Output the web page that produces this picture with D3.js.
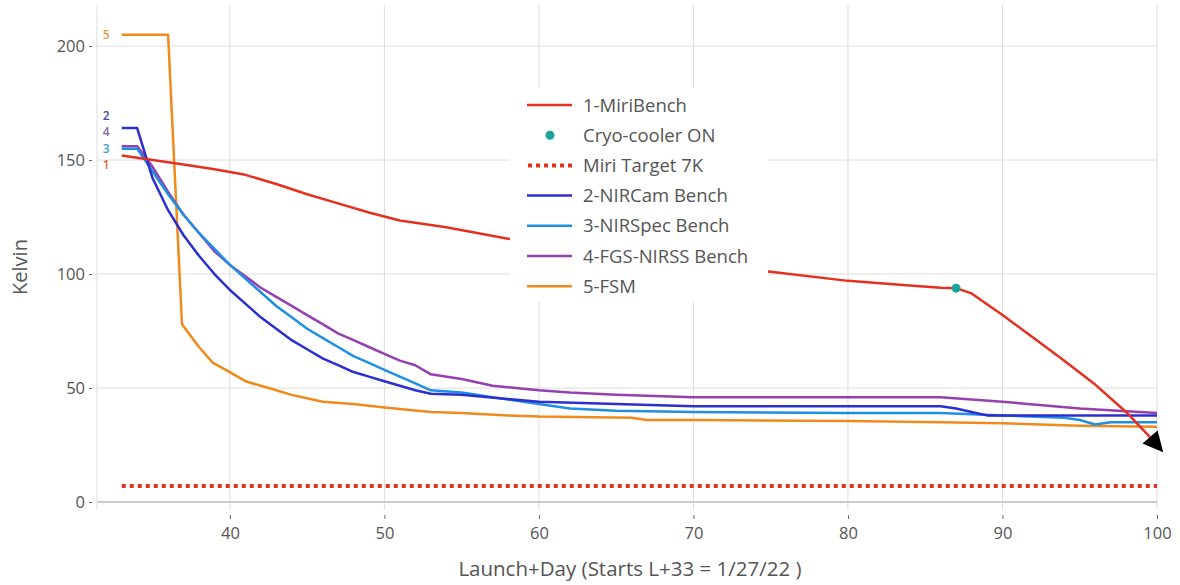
<!DOCTYPE html>
<html><head><meta charset="utf-8">
<script src="https://cdn.jsdelivr.net/npm/d3@7"></script>
<style>body{margin:0;background:#fff}svg{display:block}text{font-family:"Open Sans",sans-serif}</style>
</head><body><svg id="c" width="1180" height="585"></svg>
<script>
const miriX=[33,35,37,39,41,43,45,47,49,51,53,54,56,58,60,65,70,75,80,84,86,87,88,90,92,94,96,98,99.55];
const miriY=[152,150,148,146,143.5,139.5,135,131,127,123.5,121.5,120.5,118,115.5,113,108,104,101,97,95,94,93.8,91.5,82,72,62,51.5,39.5,28.5];
const arrowTip=[100.4,21.8];
const cryoX=[87], cryoY=[93.8];
const targetX=[33,100], targetY=[7,7];
const camX=[33,34,35,36,37,38,39,40,41,42,43,44,45,46,47,48,49,50,51,52,53,55,60,65,70,80,86,87,88,89,90,95,100];
const camY=[164,164,142,128,117,108,100,93,87,81,76,71,67,63,60,57,55,53,51,49,47.5,47,44,43,42,42,42,41,39.5,38,38,38,38];
const specX=[33,34,35,36,37,38,39,40,41,42,43,44,45,46,47,48,49,50,51,52,53,55,57,60,62,65,70,80,86,90,94,95,96,97,100];
const specY=[155,155,145,135,126,118,111,104,98,92,86,81,76,72,68,64,61,58,55,52,49,48,46,43,41,40,39.5,39,39,38,37,36,34,35,35];
const fgsX=[33,34,35,36,37,38,39,40,41,42,43,44,45,46,47,48,49,50,51,52,53,55,57,60,62,65,70,80,86,88,90,95,100];
const fgsY=[156,156,147,136,126,118,110,104,99,94,90,86,82,78,74,71,68,65,62,60,56,54,51,49,48,47,46,46,46,45,44,41,39];
const fsmX=[33,36,36.9,38,38.9,40,41,42,43,44,45,46,48,50,53,55,58,60,66,67,70,80,86,90,95,100];
const fsmY=[205,205,78,68,61,57,53,51,49,47,45.5,44,43,41.5,39.5,39,38,37.5,37,36,36,35.5,35,34.5,33.5,33];
const xTicks=[40,50,60,70,80,90,100];
const yTicks=[0,50,100,150,200];
const legendNames=["1-MiriBench","Cryo-cooler ON","Miri Target 7K","2-NIRCam Bench","3-NIRSpec Bench","4-FGS-NIRSS Bench","5-FSM"];
const lineLabels=["5","2","4","3","1"];
const lineLabelY=[205,169.5,162.3,155.1,147.9];

const C={red:"#e3301f",teal:"#1aa39a",cam:"#2b2fd0",spec:"#1f8fe3",fgs:"#9440b0",fsm:"#f08a1c"};
const svg=d3.select("#c");
const x=d3.scaleLinear().domain([31.4,100]).range([97,1157]);
const y=d3.scaleLinear().domain([-3.5,218]).range([510,5]);

// grid
svg.append("g").selectAll("line").data(xTicks).join("line")
 .attr("x1",d=>x(d)).attr("x2",d=>x(d)).attr("y1",y.range()[1]).attr("y2",y.range()[0])
 .attr("stroke","#ddd").attr("stroke-width",1);
svg.append("g").selectAll("line").data(yTicks.filter(d=>d!==0)).join("line")
 .attr("x1",97).attr("x2",1157).attr("y1",d=>y(d)).attr("y2",d=>y(d))
 .attr("stroke","#ddd").attr("stroke-width",1);
svg.append("line").attr("x1",97).attr("x2",1157).attr("y1",y(0)).attr("y2",y(0)).attr("stroke","#ccc").attr("stroke-width",2);
svg.append("line").attr("x1",97).attr("x2",97).attr("y1",5).attr("y2",510).attr("stroke","#ddd").attr("stroke-width",1);

// axes
const yAx=svg.append("g").attr("transform","translate(92,0)").call(d3.axisLeft(y).tickValues(yTicks).tickSize(3).tickPadding(4));
yAx.select(".domain").remove();
yAx.selectAll("line").attr("stroke","#666");
yAx.selectAll("text").attr("fill","#555").style("font-size","16.5px");
const xAx=svg.append("g").attr("transform","translate(0,515)").call(d3.axisBottom(x).tickValues(xTicks).tickSize(4).tickPadding(8));
xAx.select(".domain").remove();
xAx.selectAll("line").attr("stroke","#666");
xAx.selectAll("text").attr("fill","#555").style("font-size","16.5px");

svg.append("text").attr("x",630).attr("y",576).attr("text-anchor","middle").attr("fill","#555").style("font-size","20.5px").text("Launch+Day (Starts L+33 = 1/27/22 )");
svg.append("text").attr("transform","translate(27,267) rotate(-90)").attr("text-anchor","middle").attr("fill","#555").style("font-size","20px").text("Kelvin");

const line=d3.line().x(d=>x(d[0])).y(d=>y(d[1]));
const zip=(a,b)=>a.map((v,i)=>[v,b[i]]);

// target
svg.append("path").datum(zip(targetX,targetY)).attr("d",line).attr("fill","none").attr("stroke",C.red).attr("stroke-width",4).attr("stroke-dasharray","4,4");

const series=[[fsmX,fsmY,C.fsm],[fgsX,fgsY,C.fgs],[specX,specY,C.spec],[camX,camY,C.cam]];
series.forEach(s=>svg.append("path").datum(zip(s[0],s[1])).attr("d",line).attr("fill","none").attr("stroke",s[2]).attr("stroke-width",2.5).attr("stroke-linejoin","round"));
svg.append("path").datum(zip(miriX,miriY)).attr("d",line).attr("fill","none").attr("stroke",C.red).attr("stroke-width",2.5).attr("stroke-linejoin","round");

// arrowhead annotation from last Miri point to tip
(function(){
  const n=miriX.length-1;
  const bx=x(miriX[n]), by=y(miriY[n]), tx=x(arrowTip[0]), ty=y(arrowTip[1]);
  const dx=tx-bx, dy=ty-by, L=Math.hypot(dx,dy), ux=dx/L, uy=dy/L, w=10;
  const p=[[tx,ty],[bx-uy*w,by+ux*w],[bx+uy*w,by-ux*w]];
  svg.append("path").attr("d","M"+p.map(q=>q.join(",")).join("L")+"Z").attr("fill","#000");
})();

svg.selectAll(".cryo").data(zip(cryoX,cryoY)).join("circle").attr("cx",d=>x(d[0])).attr("cy",d=>y(d[1])).attr("r",4.5).attr("fill",C.teal);

// left labels
const labCol=["#e49a4a","#4545b0","#8a64a8","#33a2c8","#e0643f"];
svg.selectAll(".ll").data(lineLabels).join("text").attr("x",x(33)-12).attr("y",(d,i)=>y(lineLabelY[i])+4.5)
 .attr("text-anchor","end").attr("fill",(d,i)=>labCol[i]).style("font-size","12px").style("font-weight","600").text(d=>d);

// legend
const lg=svg.append("g").attr("transform","translate(510,88)");
lg.append("rect").attr("width",258).attr("height",214).attr("fill","#fff");
const cols=[C.red,C.teal,C.red,C.cam,C.spec,C.fgs,C.fsm];
legendNames.forEach((n,i)=>{
  const gy=17+i*30.2;
  if(i===1){lg.append("circle").attr("cx",40).attr("cy",gy).attr("r",4.5).attr("fill",C.teal);}
  else if(i===2){lg.append("line").attr("x1",18).attr("x2",62).attr("y1",gy).attr("y2",gy).attr("stroke",C.red).attr("stroke-width",4).attr("stroke-dasharray","4,4");}
  else{lg.append("line").attr("x1",17).attr("x2",62).attr("y1",gy).attr("y2",gy).attr("stroke",cols[i]).attr("stroke-width",2.5);}
  lg.append("text").attr("x",73).attr("y",gy+6.5).attr("fill","#555").style("font-size","18.5px").text(n);
});
</script></body></html>
